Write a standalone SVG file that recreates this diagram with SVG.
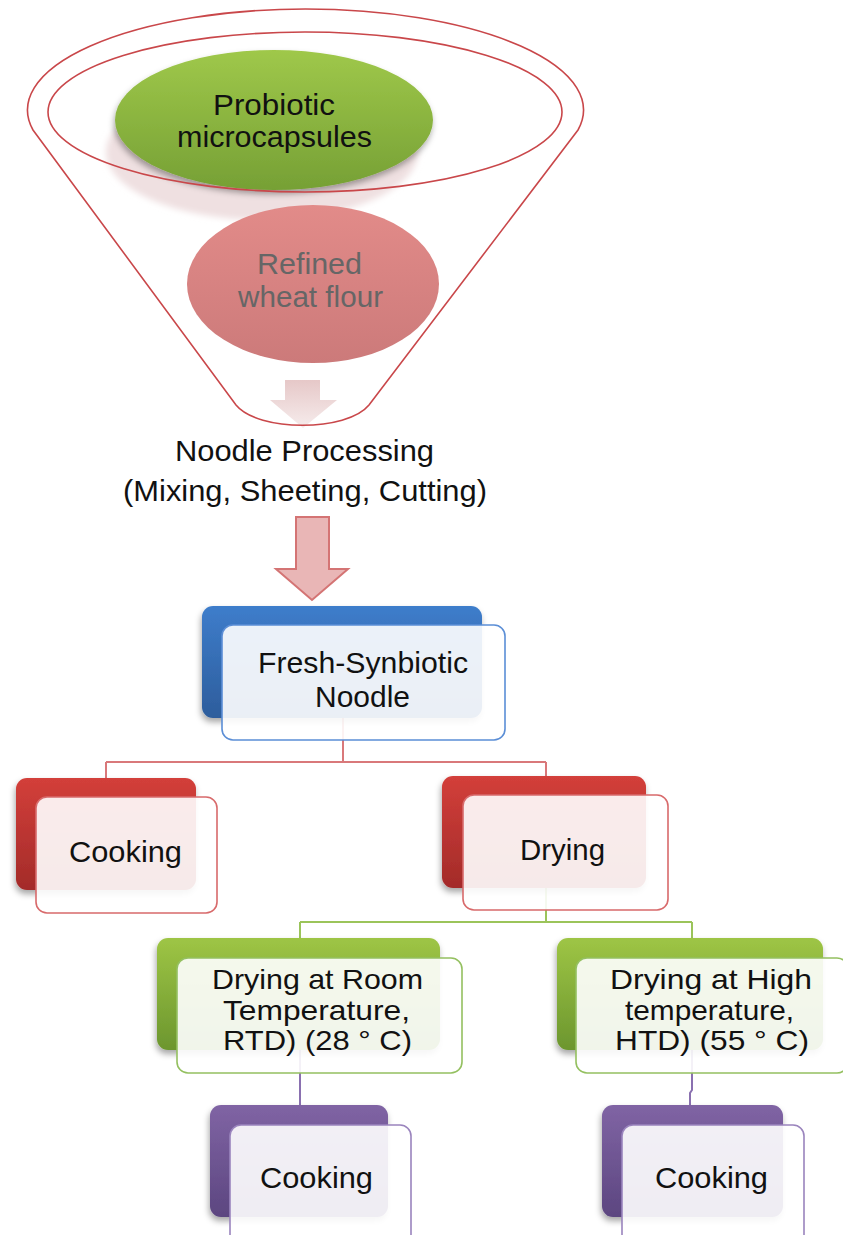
<svg xmlns="http://www.w3.org/2000/svg" width="843" height="1235" viewBox="0 0 843 1235">
<defs>
<style>
.t{font-family:"Liberation Sans",Arial,sans-serif;font-size:30px;fill:#111;text-anchor:middle}
.tg{font-size:28px}
.funnel{fill:none;stroke:#c9474a;stroke-width:1.6}
.conR{fill:none;stroke:#d9787a;stroke-width:2}
.conG{fill:none;stroke:#9bc45a;stroke-width:2}
.conP{fill:none;stroke:#8a70b0;stroke-width:2}
.front{fill:#fff;fill-opacity:0.9;stroke-width:1.6}
</style>
<linearGradient id="gGreen" x1="0" y1="0" x2="0" y2="1"><stop offset="0" stop-color="#9fc84a"/><stop offset="1" stop-color="#76a035"/></linearGradient>
<linearGradient id="gPink" x1="0" y1="0" x2="0" y2="1"><stop offset="0" stop-color="#e28b89"/><stop offset="1" stop-color="#cc7a7a"/></linearGradient>
<linearGradient id="gArrow" x1="0" y1="0" x2="0" y2="1"><stop offset="0" stop-color="#e6c8c8"/><stop offset="1" stop-color="#f6ecec"/></linearGradient>
<linearGradient id="gBlue" x1="0" y1="0" x2="0" y2="1"><stop offset="0" stop-color="#3e7dcb"/><stop offset="1" stop-color="#2d5d9c"/></linearGradient>
<linearGradient id="gRed" x1="0" y1="0" x2="0" y2="1"><stop offset="0" stop-color="#d33f3a"/><stop offset="1" stop-color="#a32b29"/></linearGradient>
<linearGradient id="gGr" x1="0" y1="0" x2="0" y2="1"><stop offset="0" stop-color="#9ec545"/><stop offset="1" stop-color="#6c962e"/></linearGradient>
<linearGradient id="gPu" x1="0" y1="0" x2="0" y2="1"><stop offset="0" stop-color="#8064a4"/><stop offset="1" stop-color="#5c4680"/></linearGradient>
<filter id="sh" x="-10%" y="-10%" width="120%" height="130%"><feDropShadow dx="-1" dy="4" stdDeviation="3" flood-color="#000" flood-opacity="0.35"/></filter>
<filter id="blur" x="-20%" y="-20%" width="140%" height="140%"><feGaussianBlur stdDeviation="3"/></filter>
</defs>

<g id="funnel">
<ellipse cx="262" cy="152" rx="156" ry="68" fill="#efe0e1" filter="url(#blur)"/>
<g id="probiotic">
<ellipse cx="274" cy="120" rx="159" ry="70" fill="url(#gGreen)" filter="url(#sh)"/>
<text class="t" x="274" y="115" textLength="122" lengthAdjust="spacingAndGlyphs">Probiotic</text>
<text class="t" x="274.5" y="147" textLength="195" lengthAdjust="spacingAndGlyphs">microcapsules</text>
</g>
<g id="flour">
<ellipse cx="313" cy="284" rx="126" ry="79" fill="url(#gPink)"/>
<text class="t" x="309.5" y="274" textLength="105" lengthAdjust="spacingAndGlyphs" style="fill:#666">Refined</text>
<text class="t" x="310.5" y="307" textLength="145" lengthAdjust="spacingAndGlyphs" style="fill:#666">wheat flour</text>
</g>
<polygon points="285,380 320,380 320,400 337,400 303,428 270,400 285,400" fill="url(#gArrow)"/>
<ellipse class="funnel" cx="305" cy="112" rx="257" ry="80"/>
<path class="funnel" d="M33,130 A278,101 0 1 1 578,130 L369,405 C347,432 258,432 236,405 Z"/>
</g>

<g id="processing">
<text class="t" x="304.5" y="461" textLength="259" lengthAdjust="spacingAndGlyphs">Noodle Processing</text>
<text class="t" x="305" y="501" textLength="364" lengthAdjust="spacingAndGlyphs">(Mixing,  Sheeting,  Cutting)</text>
<polygon points="296,517 329,517 329,569 348,569 312,600 276,569 296,569" fill="#e9b6b6" stroke="#d47474" stroke-width="2"/>
</g>

<g id="connectors">
<path class="conR" d="M343,718 V762 M106,762 H546 M106,762 V778 M546,762 V776"/>
<path class="conG" d="M546,888 V922 M300,922 H692 M300,922 V938 M692,922 V938"/>
<path class="conP" d="M300,1050 V1105 M692,1050 V1090 L690,1093 V1105"/>
</g>

<g id="fresh">
<rect x="202" y="606" width="280" height="112" rx="11" fill="url(#gBlue)" filter="url(#sh)"/>
<rect class="front" x="222" y="625" width="283" height="115" rx="11" stroke="#5b8ed6"/>
<text class="t" x="363" y="673" textLength="210" lengthAdjust="spacingAndGlyphs">Fresh-Synbiotic</text>
<text class="t" x="362.5" y="707" textLength="95" lengthAdjust="spacingAndGlyphs">Noodle</text>
</g>

<g id="cooking1">
<rect x="16" y="778" width="180" height="112" rx="11" fill="url(#gRed)" filter="url(#sh)"/>
<rect class="front" x="36" y="797" width="181" height="116" rx="11" stroke="#d86a6b"/>
<text class="t" x="125.5" y="862" textLength="113" lengthAdjust="spacingAndGlyphs">Cooking</text>
</g>

<g id="drying">
<rect x="442" y="776" width="204" height="112" rx="11" fill="url(#gRed)" filter="url(#sh)"/>
<rect class="front" x="463" y="795" width="205" height="115" rx="11" stroke="#d86a6b"/>
<text class="t" x="562.5" y="860" textLength="85" lengthAdjust="spacingAndGlyphs">Drying</text>
</g>

<g id="rtd">
<rect x="157" y="938" width="283" height="112" rx="11" fill="url(#gGr)" filter="url(#sh)"/>
<rect class="front" x="177" y="958" width="285" height="115" rx="11" stroke="#94c060"/>
<text class="t tg" x="317.5" y="989" textLength="211" lengthAdjust="spacingAndGlyphs">Drying  at Room</text>
<text class="t tg" x="316.5" y="1020" textLength="187" lengthAdjust="spacingAndGlyphs">Temperature,</text>
<text class="t tg" x="317.5" y="1050" textLength="189" lengthAdjust="spacingAndGlyphs">RTD) (28 ° C)</text>
</g>

<g id="htd">
<rect x="557" y="938" width="266" height="112" rx="11" fill="url(#gGr)" filter="url(#sh)"/>
<rect class="front" x="576" y="958" width="272" height="115" rx="11" stroke="#94c060"/>
<text class="t tg" x="711" y="989" textLength="202" lengthAdjust="spacingAndGlyphs">Drying at  High</text>
<text class="t tg" x="709.5" y="1020" textLength="169" lengthAdjust="spacingAndGlyphs">temperature,</text>
<text class="t tg" x="712" y="1050" textLength="194" lengthAdjust="spacingAndGlyphs">HTD) (55 ° C)</text>
</g>

<g id="cooking2">
<rect x="210" y="1105" width="178" height="112" rx="11" fill="url(#gPu)" filter="url(#sh)"/>
<rect class="front" x="230" y="1125" width="181" height="125" rx="11" stroke="#9a84bd"/>
<text class="t" x="316.5" y="1188" textLength="113" lengthAdjust="spacingAndGlyphs">Cooking</text>
</g>

<g id="cooking3">
<rect x="602" y="1105" width="181" height="112" rx="11" fill="url(#gPu)" filter="url(#sh)"/>
<rect class="front" x="622" y="1125" width="182" height="125" rx="11" stroke="#9a84bd"/>
<text class="t" x="711.5" y="1188" textLength="113" lengthAdjust="spacingAndGlyphs">Cooking</text>
</g>
</svg>
